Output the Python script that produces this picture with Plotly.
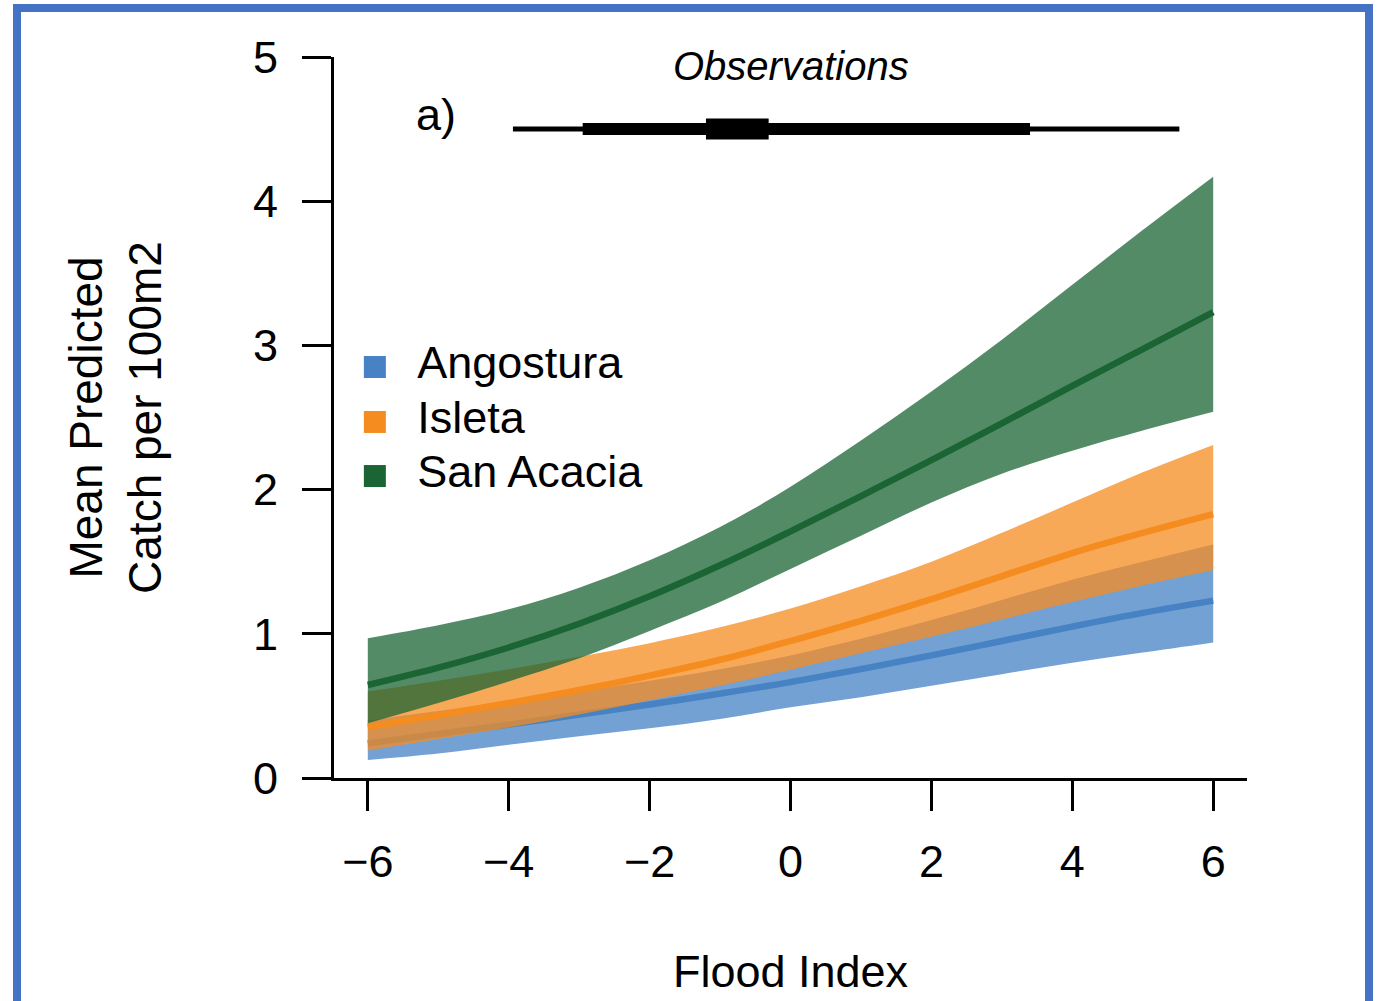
import plotly.graph_objects as go

# ---------------- data ----------------
flood_index = [-6, -5, -4, -3, -2, -1, 0, 1, 2, 3, 4, 5, 6]

angostura_mean = [0.24, 0.305, 0.37, 0.44, 0.51, 0.585, 0.665, 0.755, 0.85, 0.95, 1.05, 1.145, 1.23]
angostura_upper = [0.40, 0.465, 0.53, 0.60, 0.675, 0.755, 0.85, 0.965, 1.095, 1.235, 1.375, 1.50, 1.62]
angostura_lower = [0.125, 0.17, 0.23, 0.29, 0.345, 0.41, 0.49, 0.56, 0.64, 0.72, 0.80, 0.87, 0.94]

isleta_mean = [0.354, 0.435, 0.52, 0.61, 0.71, 0.82, 0.95, 1.09, 1.24, 1.40, 1.56, 1.70, 1.83]
isleta_upper = [0.60, 0.675, 0.755, 0.84, 0.935, 1.045, 1.175, 1.33, 1.50, 1.70, 1.91, 2.12, 2.31]
isleta_lower = [0.19, 0.27, 0.35, 0.44, 0.54, 0.64, 0.75, 0.865, 0.98, 1.10, 1.22, 1.335, 1.44]

san_acacia_mean = [0.645, 0.765, 0.905, 1.07, 1.26, 1.475, 1.71, 1.955, 2.205, 2.46, 2.72, 2.975, 3.23]
san_acacia_upper = [0.97, 1.06, 1.17, 1.32, 1.51, 1.74, 2.02, 2.34, 2.68, 3.04, 3.42, 3.80, 4.17]
san_acacia_lower = [0.38, 0.52, 0.67, 0.83, 1.02, 1.22, 1.45, 1.68, 1.91, 2.11, 2.27, 2.41, 2.54]

site_names = ["Angostura", "Isleta", "San Acacia"]

# observed flood index summary (range, inner interval, central interval)
obs_range = [-3.94, 5.52]
obs_inner = [-2.95, 3.40]
obs_center = [-1.20, -0.31]
obs_level = 4.5

x_ticks = [-6, -4, -2, 0, 2, 4, 6]
y_ticks = [0, 1, 2, 3, 4, 5]

# ---------------- styling ----------------
FONT = "Arial, Liberation Sans, sans-serif"
line_colors = {"Angostura": "rgb(70,130,196)",
               "Isleta": "rgb(245,140,32)",
               "San Acacia": "rgb(27,100,52)"}
fill_colors = {"Angostura": "rgba(70,130,196,0.75)",
               "Isleta": "rgba(245,140,32,0.75)",
               "San Acacia": "rgba(27,100,52,0.75)"}

series = {
    "Angostura": (angostura_lower, angostura_upper, angostura_mean),
    "Isleta": (isleta_lower, isleta_upper, isleta_mean),
    "San Acacia": (san_acacia_lower, san_acacia_upper, san_acacia_mean),
}

fig = go.Figure()

for name in site_names:
    lo, up, mu = series[name]
    fig.add_trace(go.Scatter(x=flood_index, y=lo, mode="lines",
                             line=dict(width=0, shape="spline", color=fill_colors[name]),
                             showlegend=False, hoverinfo="skip"))
    fig.add_trace(go.Scatter(x=flood_index, y=up, mode="lines", fill="tonexty",
                             fillcolor=fill_colors[name],
                             line=dict(width=0, shape="spline", color=fill_colors[name]),
                             showlegend=False, hoverinfo="skip"))
    fig.add_trace(go.Scatter(x=flood_index, y=mu, mode="lines", name=name,
                             line=dict(width=6.5, shape="spline", color=line_colors[name]),
                             showlegend=False))

# observations summary bar
for rng, w in [(obs_range, 5), (obs_inner, 12), (obs_center, 21)]:
    fig.add_trace(go.Scatter(x=rng, y=[obs_level, obs_level], mode="lines",
                             line=dict(width=w, color="black"),
                             showlegend=False, hoverinfo="skip"))

# legend drawn inside the plot
leg_x = -5.9
leg_text_x = -5.30
leg_y = [2.85, 2.469, 2.094]
fig.add_trace(go.Scatter(x=[leg_x] * 3, y=leg_y, mode="markers",
                         marker=dict(symbol="square", size=22,
                                     color=[line_colors[n] for n in site_names]),
                         showlegend=False, hoverinfo="skip"))
fig.add_trace(go.Scatter(x=[leg_text_x] * 3, y=leg_y, mode="text", text=site_names,
                         textposition="middle right",
                         textfont=dict(family=FONT, size=45, color="black"),
                         showlegend=False, hoverinfo="skip"))

fig.add_annotation(x=-5.03, y=4.6, text="a)", showarrow=False,
                   font=dict(family=FONT, size=45, color="black"))
fig.add_annotation(x=0.0, y=4.94, text="<i>Observations</i>", showarrow=False,
                   font=dict(family=FONT, size=40, color="black"))

# outer blue frame
fig.add_shape(type="rect", xref="paper", yref="paper",
              x0=-0.3472, x1=1.1336, y0=-0.33, y1=1.068,
              line=dict(color="#4472C4", width=8), fillcolor="rgba(0,0,0,0)")

fig.update_layout(
    width=1378, height=1001,
    margin=dict(l=334, r=131, t=57, b=223),
    paper_bgcolor="white", plot_bgcolor="white",
    font=dict(family=FONT, size=45, color="black"),
    showlegend=False,
    xaxis=dict(range=[-6.48, 6.48], tickvals=x_ticks, ticks="outside", ticklen=30,
               tickwidth=3, tickcolor="black", showline=True, linewidth=3,
               linecolor="black", showgrid=False, zeroline=False,
               tickfont=dict(family=FONT, size=45), ticklabelstandoff=12,
               title=dict(text="Flood Index", font=dict(family=FONT, size=45),
                          standoff=70)),
    yaxis=dict(range=[0, 5], tickvals=y_ticks, ticks="outside", ticklen=29,
               tickwidth=3, tickcolor="black", showline=True, linewidth=3,
               linecolor="black", showgrid=False, zeroline=False,
               tickfont=dict(family=FONT, size=45), ticklabelstandoff=15,
               title=dict(text="Mean Predicted<br>Catch per 100m2",
                          font=dict(family=FONT, size=46), standoff=77)),
)

fig.write_html("out.html")
